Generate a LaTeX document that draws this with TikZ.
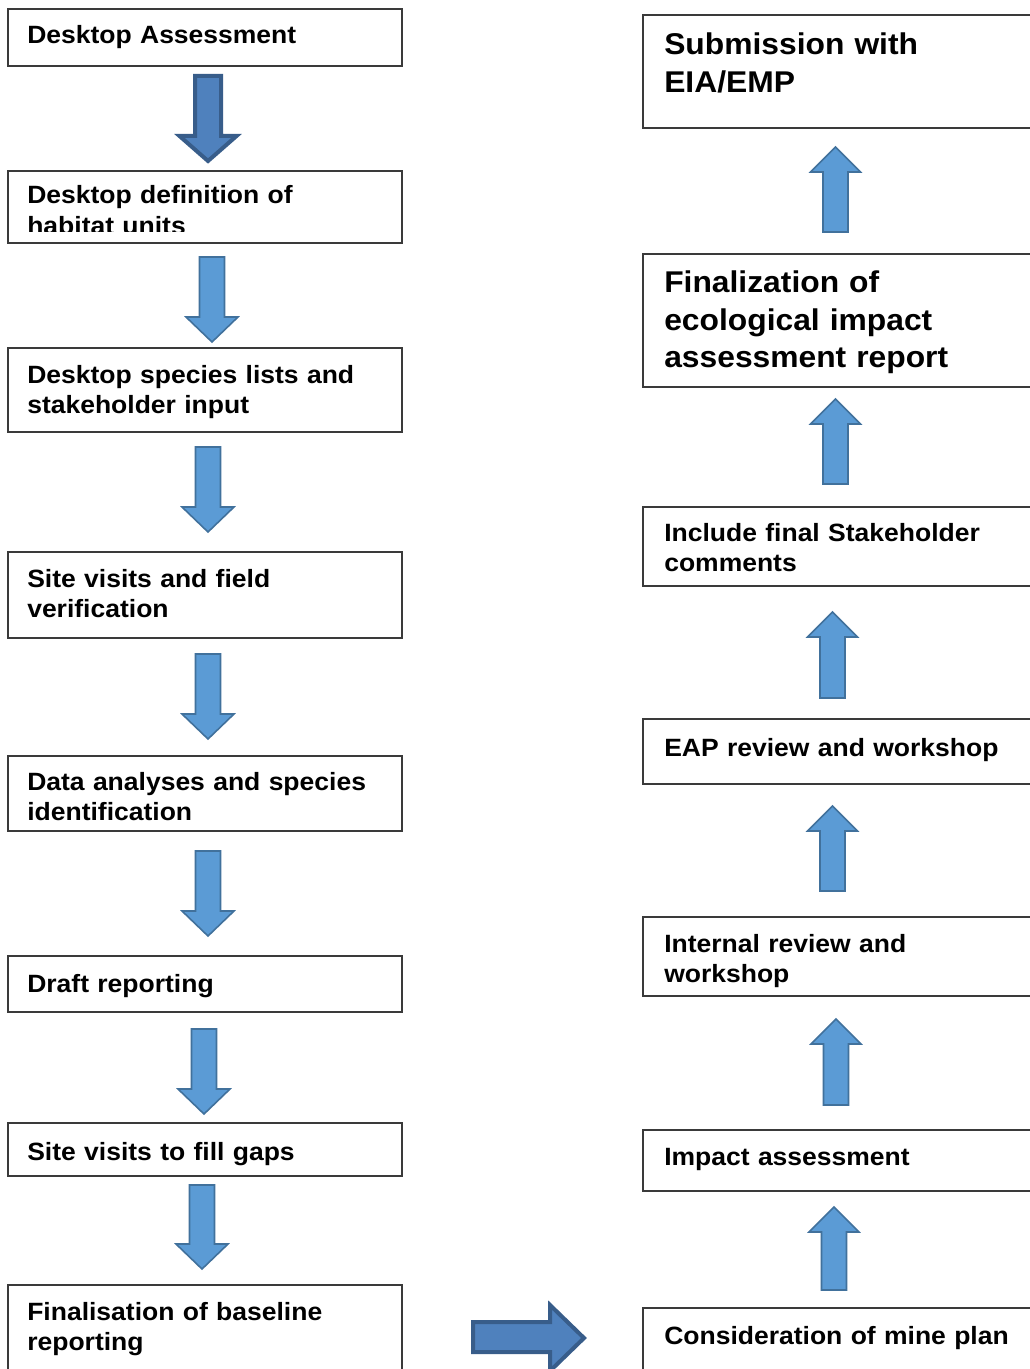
\documentclass[tikz,border=0pt]{standalone}
\usepackage{fontspec}
\setmainfont[FakeStretch=1.06]{Liberation Sans}
\definecolor{afill}{HTML}{5B9BD5}
\definecolor{aline}{HTML}{41719C}
\definecolor{dfill}{HTML}{4F81BD}
\definecolor{dline}{HTML}{385D8A}
\definecolor{bline}{HTML}{3A3A3A}
\tikzset{
  boxline/.style={draw=bline, line width=1.1pt},
  lt/.style={font=\bfseries\fontsize{18.75}{22.9}\selectfont, inner sep=0pt, anchor=base west, text width=290pt, align=left},
  rt/.style={font=\bfseries\fontsize{22.5}{28}\selectfont, inner sep=0pt, anchor=base west, text width=290pt, align=left},
  arrA/.style={fill=afill, draw=aline, line width=1.2pt, line join=miter},
  arrB/.style={fill=dfill, draw=dline, line width=3pt, line join=miter},
  darr/.pic={\path[arrA] (-12.5,0) -- (12.5,0) -- (12.5,#1-25) -- (26,#1-25) -- (0,#1) -- (-26,#1-25) -- (-12.5,#1-25) -- cycle;},
  uarr/.pic={\path[arrA] (0,0) -- (25,25) -- (12.5,25) -- (12.5,#1) -- (-12.5,#1) -- (-12.5,25) -- (-25,25) -- cycle;},
}
\begin{document}
\begin{tikzpicture}[x=0.75pt, y=-0.75pt]
\useasboundingbox (0,0) rectangle (1030,1369);
\clip (0,0) rectangle (1030,1369);
\fill[white] (0,0) rectangle (1030,1369);

% left column boxes
\draw[boxline] (8,9) rectangle (402,66);
\node[lt] (l1) at (27,44) {Desktop Assessment};
\draw[boxline] (8,171) rectangle (402,243);
\begin{scope}
  \clip (8,171) rectangle (402,232);
  \node[lt] (l2) at (27,204) {Desktop definition of\\habitat units};
\end{scope}
\draw[boxline] (8,348) rectangle (402,432);
\node[lt] (l3) at (27,383) {Desktop species lists and\\stakeholder input};
\draw[boxline] (8,552) rectangle (402,638);
\node[lt] (l4) at (27,587) {Site visits and field\\verification};
\draw[boxline] (8,756) rectangle (402,831);
\node[lt] (l5) at (27,790) {Data analyses and species\\identification};
\draw[boxline] (8,956) rectangle (402,1012);
\node[lt] (l6) at (27,992) {Draft reporting};
\draw[boxline] (8,1123) rectangle (402,1176);
\node[lt] (l7) at (27,1160) {Site visits to fill gaps};
\draw[boxline] (8,1285) rectangle (402,1380);
\node[lt] (l8) at (27,1320) {Finalisation of baseline\\reporting};

% right column boxes
\draw[boxline] (643,15) rectangle (1045,128);
\node[rt] (r1) at (664,55) {Submission with\\EIA/EMP};
\draw[boxline] (643,254) rectangle (1045,387);
\node[rt] (r2) at (664,293) {Finalization of\\ecological impact\\assessment report};
\draw[boxline] (643,507) rectangle (1045,586);
\node[lt] (r3) at (664,541) {Include final Stakeholder\\comments};
\draw[boxline] (643,719) rectangle (1045,784);
\node[lt] (r4) at (664,756) {EAP review and workshop};
\draw[boxline] (643,917) rectangle (1045,996);
\node[lt] (r5) at (664,952) {Internal review and\\workshop};
\draw[boxline] (643,1130) rectangle (1045,1191);
\node[lt] (r6) at (664,1165) {Impact assessment};
\draw[boxline] (643,1308) rectangle (1045,1380);
\node[lt] (r7) at (664,1344) {Consideration of mine plan};

% left down arrows
\path[arrB] (195,76) -- (221,76) -- (221,136) -- (236.5,136) -- (208,161) -- (179.5,136) -- (195,136) -- cycle;
\pic at (212,257) {darr=85};
\pic at (208,447) {darr=85};
\pic at (208,654) {darr=85};
\pic at (208,851) {darr=85};
\pic at (204,1029) {darr=85};
\pic at (202,1185) {darr=84};

% right up arrows
\pic at (835.5,147) {uarr=85};
\pic at (835.5,399) {uarr=85};
\pic at (832.5,612) {uarr=86};
\pic at (832.5,806) {uarr=85};
\pic at (836,1019) {uarr=86};
\pic at (834,1207) {uarr=83};

% horizontal arrow
\path[arrB] (473,1322) -- (550,1322) -- (550,1305) -- (584,1338) -- (550,1371) -- (550,1352) -- (473,1352) -- cycle;
\end{tikzpicture}
\end{document}
